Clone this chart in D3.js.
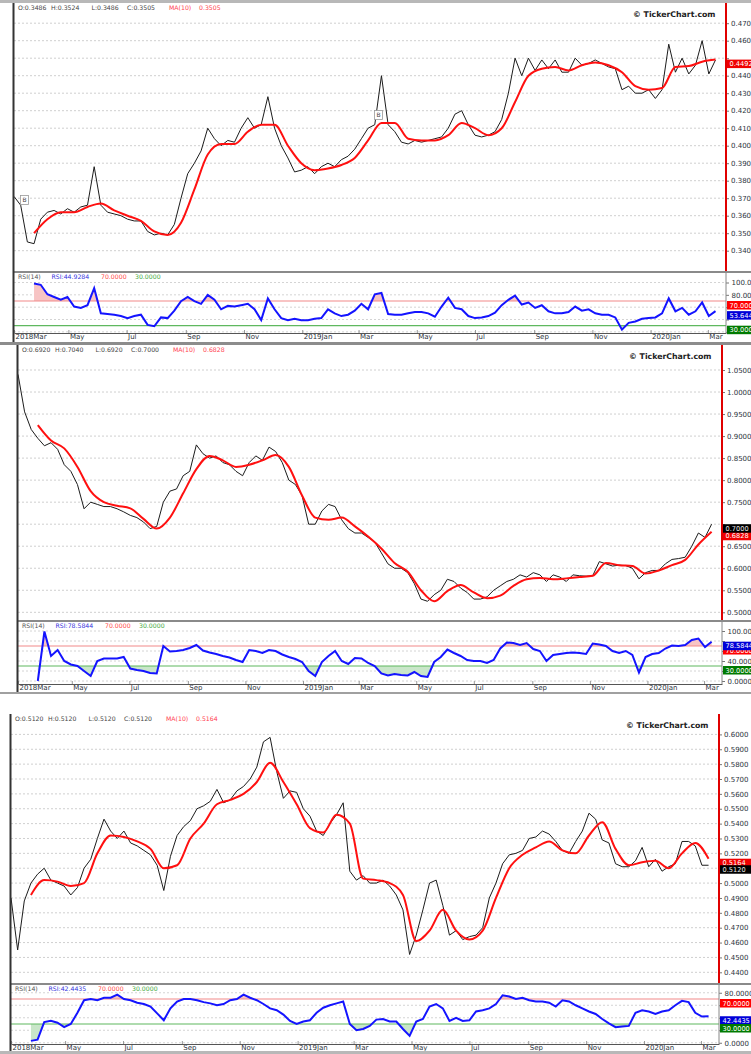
<!DOCTYPE html>
<html>
<head>
<meta charset="utf-8">
<script src="https://cdn.jsdelivr.net/npm/d3@7"></script>
<style>
  body { margin: 0; background: #fff; }
  svg text { font-family: "DejaVu Sans", Verdana, sans-serif; }
</style>
</head>
<body>
<svg id="chart"></svg>
<script>
// ---- data (weekly closes, MA(10) every 2 weeks, weekly RSI(14)) ----
const dateStart = "2018-03-05";
const dateEnd = "2020-03-20";
const closeStart = "2018-03-05";   // step 7 days
const maStart = "2018-03-26";      // step 14 days
const rsiStart = "2018-03-26";     // step 7 days

const dateTicks = ["2018-03-01","2018-05-01","2018-07-01","2018-09-01","2018-11-01","2019-01-01","2019-03-01",
                   "2019-05-01","2019-07-01","2019-09-01","2019-11-01","2020-01-01","2020-03-01"];
const dateTickLabels = ["2018Mar","May","Jul","Sep","Nov","2019Jan","Mar","May","Jul","Sep","Nov","2020Jan","Mar"];
const rsiTicks = [0, 20, 40, 60, 80, 100];

// chart 1
const p1Ticks = [0.34,0.35,0.36,0.37,0.38,0.39,0.40,0.41,0.42,0.43,0.44,0.45,0.46,0.47];
const p1Close = [0.371,0.366,0.345,0.344,0.358,0.362,0.363,0.361,0.364,0.362,
  0.365,0.366,0.388,0.366,0.362,0.361,0.360,0.358,0.357,0.357,
  0.351,0.349,0.350,0.349,0.355,0.370,0.384,0.390,0.397,0.410,
  0.404,0.400,0.403,0.402,0.410,0.416,0.410,0.412,0.428,0.410,
  0.400,0.393,0.385,0.386,0.388,0.384,0.388,0.390,0.388,0.392,
  0.394,0.398,0.404,0.410,0.412,0.440,0.412,0.408,0.402,0.401,
  0.403,0.402,0.403,0.404,0.405,0.410,0.418,0.420,0.412,0.406,
  0.405,0.406,0.408,0.415,0.430,0.450,0.440,0.450,0.443,0.449,
  0.444,0.449,0.442,0.442,0.450,0.446,0.447,0.449,0.447,0.445,
  0.444,0.432,0.434,0.430,0.430,0.432,0.427,0.432,0.458,0.442,
  0.450,0.441,0.446,0.460,0.441,0.449];
const p1Ma = [0.350,0.358,0.362,0.362,0.365,0.367,0.363,0.360,0.357,0.351,
  0.349,0.356,0.375,0.395,0.401,0.401,0.408,0.412,0.412,0.400,
  0.390,0.386,0.387,0.389,0.393,0.403,0.413,0.413,0.404,0.403,
  0.403,0.406,0.413,0.410,0.406,0.410,0.425,0.440,0.444,0.445,
  0.443,0.446,0.4475,0.446,0.442,0.434,0.432,0.433,0.445,0.4455,
  0.448,0.4492];
const p1Rsi = [98.5,96.3,80.9,76.5,72.0,76.5,61.0,58.8,63.2,90.8,
  50.0,48.9,47.8,45.6,42.3,45.6,47.8,31.3,29.1,43.4,
  42.3,54.4,69.8,76.5,69.8,65.4,79.8,72.0,56.6,62.1,
  61.0,63.2,65.4,56.6,39.0,74.2,56.6,42.3,39.0,41.2,
  39.0,39.0,41.2,42.3,56.6,50.0,45.6,47.8,54.4,65.4,
  56.6,80.9,83.1,48.9,47.8,47.8,50.0,52.2,52.2,50.0,
  44.5,61.0,75.4,58.8,56.6,45.6,42.3,43.4,45.6,51.1,
  63.2,72.0,78.7,64.3,67.6,58.8,63.2,53.3,50.0,50.0,
  52.2,61.0,54.4,56.6,50.0,47.8,47.8,43.4,23.6,34.6,
  36.8,41.2,42.3,43.4,50.0,74.2,53.3,58.8,47.8,53.3,
  67.6,45.6,53.6];
const p1Head = ["O:0.3486","H:0.3524","L:0.3486","C:0.3505","MA(10)","0.3505"];
const p1RsiHead = ["RSI(14)","RSI:44.9284","70.0000","30.0000"];
const p1Marks = [{d:"2018-03-16", v:0.369}, {d:"2019-03-22", v:0.4175}];

// chart 2
const p2Ticks = [0.50,0.55,0.60,0.65,0.70,0.75,0.80,0.85,0.90,0.95,1.00,1.05];
const p2Close = [1.04,0.955,0.915,0.895,0.878,0.885,0.87,0.835,0.82,0.79,
  0.735,0.75,0.745,0.74,0.74,0.735,0.728,0.72,0.715,0.705,
  0.69,0.695,0.75,0.775,0.78,0.81,0.82,0.88,0.86,0.85,
  0.855,0.84,0.835,0.82,0.81,0.84,0.855,0.845,0.875,0.865,
  0.84,0.80,0.79,0.765,0.70,0.70,0.73,0.745,0.74,0.71,
  0.69,0.68,0.68,0.67,0.66,0.635,0.61,0.60,0.60,0.59,
  0.565,0.53,0.525,0.54,0.55,0.575,0.57,0.555,0.545,0.53,
  0.53,0.535,0.55,0.56,0.57,0.575,0.585,0.58,0.59,0.585,
  0.57,0.585,0.58,0.57,0.585,0.583,0.582,0.583,0.615,0.61,
  0.605,0.607,0.606,0.60,0.576,0.59,0.595,0.595,0.61,0.62,
  0.622,0.625,0.65,0.68,0.67,0.70];
const p2Ma = [0.925,0.89,0.872,0.83,0.775,0.75,0.742,0.736,0.712,0.69,
  0.715,0.77,0.825,0.855,0.845,0.83,0.835,0.845,0.857,0.83,
  0.765,0.715,0.71,0.715,0.695,0.672,0.645,0.612,0.592,0.55,
  0.525,0.548,0.562,0.545,0.532,0.538,0.56,0.575,0.578,0.575,
  0.577,0.58,0.583,0.612,0.607,0.605,0.588,0.595,0.607,0.619,
  0.654,0.6828];
const p2Rsi = [0,99,50,62,40,33,30,20,10,40,
  45,45,45,48,25,22,20,16,15,70,
  59,60,62,66,72,61,57,54,50,47,
  42,38,62,60,56,62,60,53,48,44,
  38,20,10,38,50,60,40,34,46,45,
  36,30,15,11,14,12,11,18,10,8,
  38,48,63,56,50,42,40,40,36,42,
  65,77,76,72,76,64,60,40,52,54,
  56,57,56,54,75,73,70,60,56,60,
  52,17,48,54,56,65,71,70,72,82,
  85,68,78.6];
const p2Head = ["O:0.6920","H:0.7040","L:0.6920","C:0.7000","MA(10)","0.6828"];
const p2RsiHead = ["RSI(14)","RSI:78.5844","70.0000","30.0000"];

// chart 3
const p3Ticks = [0.44,0.45,0.46,0.47,0.48,0.49,0.50,0.51,0.52,0.53,0.54,0.55,0.56,0.57,0.58,0.59,0.60];
const p3Close = [0.49,0.455,0.488,0.50,0.506,0.51,0.502,0.50,0.498,0.492,
  0.497,0.51,0.516,0.53,0.543,0.535,0.53,0.535,0.527,0.525,
  0.522,0.519,0.512,0.495,0.518,0.532,0.538,0.542,0.55,0.552,
  0.555,0.563,0.554,0.556,0.562,0.565,0.57,0.578,0.595,0.598,
  0.575,0.557,0.562,0.561,0.55,0.545,0.535,0.532,0.54,0.546,
  0.554,0.508,0.502,0.505,0.50,0.50,0.502,0.498,0.492,0.482,
  0.452,0.465,0.482,0.50,0.502,0.485,0.465,0.468,0.462,0.464,
  0.465,0.47,0.49,0.50,0.513,0.519,0.52,0.522,0.53,0.531,
  0.535,0.533,0.528,0.522,0.52,0.528,0.535,0.547,0.543,0.529,
  0.527,0.513,0.511,0.511,0.515,0.524,0.511,0.516,0.508,0.511,
  0.513,0.528,0.528,0.525,0.512,0.512];
const p3Ma = [0.492,0.502,0.501,0.498,0.50,0.52,0.532,0.531,0.528,0.523,
  0.51,0.512,0.53,0.54,0.553,0.556,0.56,0.568,0.581,0.568,
  0.553,0.537,0.534,0.546,0.540,0.503,0.502,0.50,0.492,0.461,
  0.468,0.482,0.468,0.462,0.468,0.49,0.51,0.519,0.524,0.528,
  0.522,0.52,0.532,0.541,0.523,0.512,0.514,0.515,0.51,0.52,
  0.527,0.5164];
const p3Rsi = [3,5,33,35,32,25,30,48,68,70,
  68,72,72,77,70,68,64,62,58,47,
  36,55,66,70,70,68,65,63,60,62,
  68,70,77,72,68,62,55,52,45,35,
  30,34,36,48,56,60,63,66,30,20,
  22,27,37,38,34,34,22,11,34,38,
  58,62,55,35,40,35,36,50,52,55,
  62,76,74,70,72,68,66,66,64,58,
  68,66,60,55,50,46,38,31,25,26,
  27,48,52,50,46,50,52,60,67,65,
  48,42,42.4];
const p3Head = ["O:0.5120","H:0.5120","L:0.5120","C:0.5120","MA(10)","0.5164"];
const p3RsiHead = ["RSI(14)","RSI:42.4435","70.0000","30.0000"];

// ---- layout ----
const W = 751, H = 1054;
const parse = d3.timeParse("%Y-%m-%d");
const fmt4 = d3.format(".4f");
const BOX_H = 8.5;

const svg = d3.select("#chart").attr("width", W).attr("height", H);
svg.append("rect").attr("width", W).attr("height", H).attr("fill", "#fff");
const defs = svg.append("defs");

function series(start, step, vals) {
  const s = parse(start);
  return vals.map((v, k) => ({ d: d3.timeDay.offset(s, k * step), v: v }));
}

const panels = [
  { id: "a", left: 14, right: 726, top: 3, priceBottom: 271, rsiTop: 273, rsiBottom: 333,
    priceDomain: [0.34, 0.47], priceRange: [250.7, 23.2], rsiRange: [344.2, 282.5],
    ticks: p1Ticks, close: p1Close, ma: p1Ma, rsi: p1Rsi, head: p1Head, rsiHead: p1RsiHead,
    marks: p1Marks, closeBox: false, rsiLabel: "53.6444" },
  { id: "b", left: 18, right: 722, top: 345, priceBottom: 620, rsiTop: 622, rsiBottom: 684,
    priceDomain: [0.50, 1.05], priceRange: [612.3, 370], rsiRange: [681, 631],
    ticks: p2Ticks, close: p2Close, ma: p2Ma, rsi: p2Rsi, head: p2Head, rsiHead: p2RsiHead,
    marks: [], closeBox: true, rsiLabel: "78.5844" },
  { id: "c", left: 11, right: 719, top: 714, priceBottom: 983, rsiTop: 985, rsiBottom: 1044,
    priceDomain: [0.44, 0.60], priceRange: [972.3, 734.4], rsiRange: [1042.75, 980.25],
    ticks: p3Ticks, close: p3Close, ma: p3Ma, rsi: p3Rsi, head: p3Head, rsiHead: p3RsiHead,
    marks: [], closeBox: true, rsiLabel: "42.4435" }
];

const headDx = [4, 37, 77.5, 113, 155, 185];
const rsiHeadDx = [4, 37.5, 87, 121];
const rsiHeadColors = ["#555", "#3333dd", "#ff4a4a", "#44aa44"];

function drawPanel(c) {
  const g = svg.append("g");
  const x = d3.scaleTime().domain([parse(dateStart), parse(dateEnd)]).range([c.left, c.right]).clamp(true);
  const y = d3.scaleLinear().domain(c.priceDomain).range(c.priceRange);
  const r = d3.scaleLinear().domain([0, 100]).range(c.rsiRange);

  const closeData = series(closeStart, 7, c.close);
  const maData = series(maStart, 14, c.ma);
  const rsiData = series(rsiStart, 7, c.rsi);
  const lastClose = c.close[c.close.length - 1], lastMa = c.ma[c.ma.length - 1], lastRsi = c.rsi[c.rsi.length - 1];

  // tops of the value boxes, used to hide axis labels they cover
  const priceBoxes = [y(lastMa)].concat(c.closeBox ? [y(lastClose)] : []);
  const rsiBoxes = [r(70), r(lastRsi), r(30)];
  const covered = (yy, boxes) => boxes.some(t => yy > t - 2.5 && yy < t + BOX_H);

  defs.append("clipPath").attr("id", "cp" + c.id).append("rect")
    .attr("x", c.left).attr("y", c.top).attr("width", c.right - c.left).attr("height", c.priceBottom - c.top);
  defs.append("clipPath").attr("id", "cr" + c.id).append("rect")
    .attr("x", c.left).attr("y", c.rsiTop).attr("width", c.right - c.left).attr("height", c.rsiBottom - c.rsiTop);
  defs.append("clipPath").attr("id", "ch" + c.id).append("rect")
    .attr("x", c.left).attr("y", c.rsiTop).attr("width", c.right - c.left).attr("height", r(70) - c.rsiTop);
  defs.append("clipPath").attr("id", "cl" + c.id).append("rect")
    .attr("x", c.left).attr("y", r(30)).attr("width", c.right - c.left).attr("height", c.rsiBottom - r(30));

  // price grid
  g.append("g").selectAll("line").data(c.ticks).join("line")
    .attr("x1", c.left).attr("x2", c.right).attr("y1", d => y(d)).attr("y2", d => y(d))
    .attr("stroke", "#cfcfcf").attr("stroke-dasharray", "2,2");

  // price axis
  const ay = g.append("g").attr("transform", `translate(${c.right},0)`)
    .call(d3.axisRight(y).tickValues(c.ticks).tickFormat(fmt4).tickSize(3).tickPadding(2));
  ay.select(".domain").remove();
  ay.selectAll("line").attr("stroke", "#777");
  ay.selectAll("text").attr("font-size", 7).attr("fill", "#2d3440");
  ay.selectAll(".tick").filter(d => covered(y(d), priceBoxes)).select("text").remove();

  // lines
  const line = d3.line().x(d => x(d.d)).y(d => y(d.v));
  g.append("path").datum(closeData).attr("clip-path", `url(#cp${c.id})`)
    .attr("d", line).attr("fill", "none").attr("stroke", "#1c1c1c").attr("stroke-width", 1);
  g.append("path").datum(maData).attr("clip-path", `url(#cp${c.id})`)
    .attr("d", line.curve(d3.curveMonotoneX)).attr("fill", "none").attr("stroke", "#ff1010").attr("stroke-width", 2);

  // buy marks
  c.marks.forEach(m => {
    const mx = x(parse(m.d)), my = y(m.v);
    g.append("rect").attr("x", mx - 4).attr("y", my - 4.5).attr("width", 8).attr("height", 9)
      .attr("fill", "#fff").attr("stroke", "#999").attr("stroke-width", 0.8);
    g.append("text").attr("x", mx).attr("y", my).attr("dy", "0.35em").attr("text-anchor", "middle")
      .attr("font-size", 6).attr("fill", "#444").text("B");
  });

  // header
  g.append("g").selectAll("text").data(c.head).join("text")
    .attr("x", (d, i) => c.left + headDx[i]).attr("y", c.top + 7.3)
    .attr("font-size", 6.2).attr("fill", (d, i) => i < 4 ? "#444" : "#ff4050").text(d => d);
  g.append("text").attr("x", c.right - 10.5).attr("y", c.top + 14).attr("text-anchor", "end")
    .attr("font-size", 7.8).attr("font-weight", "bold").attr("fill", "#222").text("\u00a9 TickerChart.com");

  // right red line
  g.append("line").attr("x1", c.right).attr("x2", c.right).attr("y1", c.top).attr("y2", c.priceBottom)
    .attr("stroke", "#e00000").attr("stroke-width", 2);

  // value boxes
  const box = (top, fill, label, color) => {
    g.append("rect").attr("x", c.right + 1).attr("y", top).attr("width", W - c.right).attr("height", BOX_H).attr("fill", fill);
    g.append("text").attr("x", c.right + 3.5).attr("y", top + BOX_H / 2).attr("dy", "0.35em")
      .attr("font-size", 6.6).attr("fill", color).text(label);
  };
  box(y(lastMa), "#f00000", fmt4(lastMa), "#fff");
  if (c.closeBox) box(y(lastClose), "#000", fmt4(lastClose), "#e8e8e8");

  // separator price / rsi
  g.append("rect").attr("x", c.left).attr("y", c.priceBottom).attr("width", W - c.left).attr("height", c.rsiTop - c.priceBottom).attr("fill", "#8a8a8a");

  // rsi grid + axis
  const rt = rsiTicks.filter(v => r(v) >= c.rsiTop + 3 && r(v) <= c.rsiBottom);
  g.append("g").selectAll("line").data(rt).join("line")
    .attr("x1", c.left).attr("x2", c.right).attr("y1", d => r(d)).attr("y2", d => r(d))
    .attr("stroke", "#d4d4d4").attr("stroke-dasharray", "2,2");
  const ar = g.append("g").attr("transform", `translate(${c.right},0)`)
    .call(d3.axisRight(r).tickValues(rt).tickFormat(fmt4).tickSize(3).tickPadding(2.5));
  ar.select(".domain").remove();
  ar.selectAll("line").attr("stroke", "#777");
  ar.selectAll("text").attr("font-size", 7).attr("fill", "#2d3440");
  ar.selectAll(".tick").filter(d => covered(r(d), rsiBoxes)).select("text").remove();

  // rsi fills
  const area = d3.area().x(d => x(d.d)).y1(d => r(d.v));
  g.append("path").datum(rsiData).attr("clip-path", `url(#ch${c.id})`)
    .attr("d", area.y0(r(70))).attr("fill", "#f7c4c4");
  g.append("path").datum(rsiData).attr("clip-path", `url(#cl${c.id})`)
    .attr("d", area.y0(r(30))).attr("fill", "#c9e6c9");

  g.append("line").attr("x1", c.left).attr("x2", c.right).attr("y1", r(70)).attr("y2", r(70))
    .attr("stroke", "#f28a8a").attr("stroke-width", 1.2);
  g.append("line").attr("x1", c.left).attr("x2", c.right).attr("y1", r(30)).attr("y2", r(30))
    .attr("stroke", "#5fb85f").attr("stroke-width", 1.2);

  g.append("path").datum(rsiData).attr("clip-path", `url(#cr${c.id})`)
    .attr("d", d3.line().x(d => x(d.d)).y(d => r(d.v))).attr("fill", "none")
    .attr("stroke", "#1414ff").attr("stroke-width", 2);

  g.append("g").selectAll("text").data(c.rsiHead).join("text")
    .attr("x", (d, i) => c.left + rsiHeadDx[i]).attr("y", c.rsiTop + 5.5)
    .attr("font-size", 6.2).attr("fill", (d, i) => rsiHeadColors[i]).text(d => d);

  box(r(70), "#ff0000", "70.0000", "#fff");
  box(r(lastRsi), "#0000d8", c.rsiLabel, "#fff");
  box(r(30), "#007a00", "30.0000", "#fff");

  g.append("line").attr("x1", c.right).attr("x2", c.right).attr("y1", c.rsiTop).attr("y2", c.rsiBottom)
    .attr("stroke", "#888").attr("stroke-width", 1);

  // date axis
  const ax = g.append("g").attr("transform", `translate(0,${c.rsiBottom})`)
    .call(d3.axisBottom(x).tickValues(dateTicks.map(parse)).tickFormat((d, i) => dateTickLabels[i])
      .tickSizeInner(-3).tickSizeOuter(0).tickPadding(1));
  ax.select(".domain").attr("stroke", "#555");
  ax.selectAll("line").attr("stroke", "#999");
  ax.selectAll("text").attr("text-anchor", "start").attr("x", 1).attr("font-size", 7).attr("fill", "#2d3440");

  // left border
  g.append("line").attr("x1", c.left - 0.5).attr("x2", c.left - 0.5).attr("y1", c.top).attr("y2", c.rsiBottom + 9)
    .attr("stroke", "#333").attr("stroke-width", 2);
}

panels.forEach(drawPanel);

// frame bands between the charts
svg.append("rect").attr("x", 0).attr("y", 0).attr("width", W).attr("height", 3).attr("fill", "#b8b8b8");
svg.append("rect").attr("x", 0).attr("y", 342).attr("width", W).attr("height", 3).attr("fill", "#8c8c8c");
svg.append("rect").attr("x", 0).attr("y", 692).attr("width", W).attr("height", 2).attr("fill", "#a0a0a0");
svg.append("rect").attr("x", 0).attr("y", 1051).attr("width", W).attr("height", 3).attr("fill", "#b8b8b8");
</script>
</body>
</html>
